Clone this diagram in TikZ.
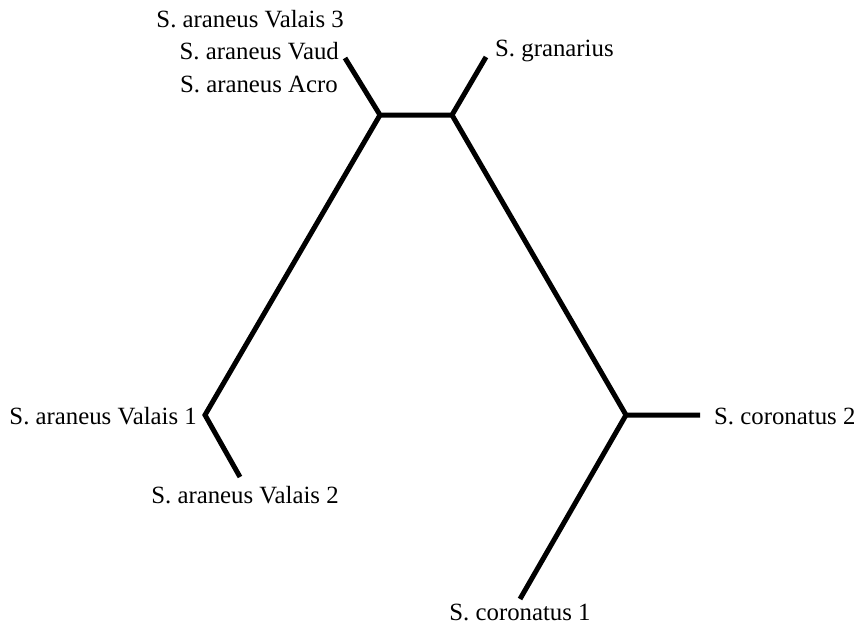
\documentclass[tikz,border=0pt]{standalone}
\usepackage{fontspec}
\setmainfont{Liberation Serif}
\begin{document}
\begin{tikzpicture}[x=1pt,y=-1pt,
  branch/.style={line width=5pt,line cap=butt,line join=miter},
  lab/.style={font=\fontsize{24.8}{27}\selectfont,inner sep=0pt}]
\useasboundingbox (0,0) rectangle (854,627);
% internal nodes
\coordinate (A) at (380,115);
\coordinate (B) at (452,115);
\coordinate (C) at (205,415);
\coordinate (D) at (626,415);
% leaves
\coordinate (vaud) at (345,58);
\coordinate (gran) at (486,57);
\coordinate (v2) at (240,477);
\coordinate (c2) at (700,415);
\coordinate (c1) at (520,599);
% branches
\draw[branch] (vaud) -- (A) -- (B) -- (gran);
\draw[branch] (A) -- (C) -- (v2);
\draw[branch] (B) -- (D) -- (c2);
\draw[branch] (D) -- (c1);
% labels
\node[lab,anchor=east] (lv3) at (344,19) {S. araneus Valais 3};
\node[lab,anchor=east] (lvaud) at (339,51) {S. araneus Vaud};
\node[lab,anchor=east] (lacro) at (338,84) {S. araneus Acro};
\node[lab,anchor=west] (lgran) at (495,51) {S. granarius};
\node[lab,anchor=east] (lv1) at (197,416) {S. araneus Valais 1};
\node[lab] (lv2) at (245,495) {S. araneus Valais 2};
\node[lab,anchor=west] (lc2) at (714,416) {S. coronatus 2};
\node[lab] (lc1) at (520,612) {S. coronatus 1};
\end{tikzpicture}
\end{document}
